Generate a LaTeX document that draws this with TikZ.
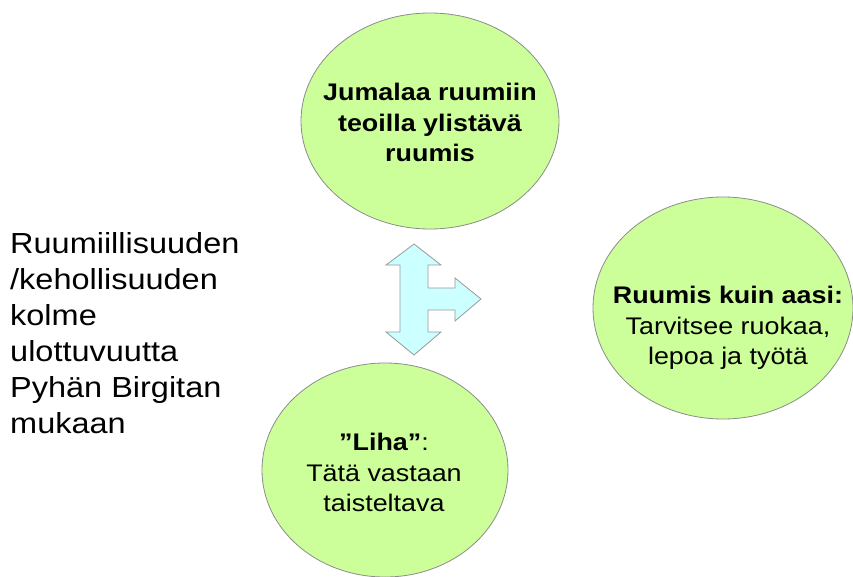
\documentclass[tikz,border=0pt]{standalone}
\usepackage{fontspec}
\setmainfont[FakeStretch=1.12]{Liberation Sans}
\usetikzlibrary{shapes.geometric}
\definecolor{blobfill}{HTML}{CCFF99}
\definecolor{blobline}{HTML}{8C8C8C}
\definecolor{arrowfill}{HTML}{CCFFFF}
\definecolor{arrowline}{HTML}{999999}
\tikzset{
  blob/.style={ellipse, draw=blobline, fill=blobfill, line width=0.8pt, inner sep=0pt},
  blobtext/.style={anchor=north, align=center, inner sep=0pt, font=\fontsize{24}{30.5}\selectfont},
  sidetext/.style={anchor=north west, align=left, inner sep=0pt, font=\fontsize{29}{36}\selectfont},
  bigarrow/.style={draw=arrowline, fill=arrowfill, line width=0.8pt, line join=miter}
}
\begin{document}
\begin{tikzpicture}[x=1pt,y=-1pt]
\useasboundingbox (0,0) rectangle (853,577);
\fill[white] (0,0) rectangle (853,577);
% ellipses
\node[blob, minimum width=258pt, minimum height=216pt] (top) at (430,121) {};
\node[blob, minimum width=260pt, minimum height=222pt] (right) at (723,308) {};
\node[blob, minimum width=246pt, minimum height=214pt] (bottom) at (385,470) {};
% texts
\node[blobtext] (toptext) at (430,83) {\textbf{Jumalaa ruumiin}\\\textbf{teoilla ylistävä}\\\textbf{ruumis}};
\node[blobtext] (righttext) at (728,286) {\textbf{Ruumis kuin aasi:}\\Tarvitsee ruokaa,\\lepoa ja työtä};
\node[blobtext] (bottomtext) at (384,433) {\textbf{”Liha”}:\\Tätä vastaan\\taisteltava};
\node[sidetext] (side) at (10,232) {Ruumiillisuuden\\/kehollisuuden\\kolme\\ulottuvuutta\\Pyhän Birgitan\\mukaan};
% three-way arrow
\draw[bigarrow] (414,244) -- (441,265) -- (428,265) -- (428,288) -- (455,288) -- (455,278)
  -- (481,299) -- (455,321) -- (455,310) -- (428,310) -- (428,332) -- (441,332)
  -- (414,355) -- (386,332) -- (400,332) -- (400,265) -- (386,265) -- cycle;
\end{tikzpicture}
\end{document}
